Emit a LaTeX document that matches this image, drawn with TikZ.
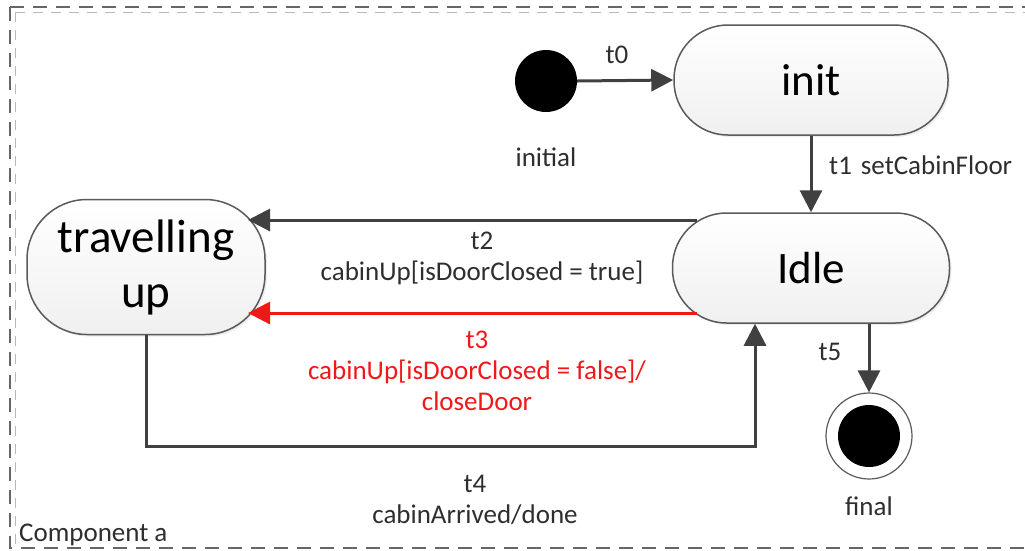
\documentclass[tikz,border=0pt]{standalone}
\usepackage{fontspec}
\setmainfont{Carlito}
\usetikzlibrary{arrows.meta,shadows}
\definecolor{edge}{HTML}{404040}
\definecolor{rim}{HTML}{5A5A5A}
\definecolor{hot}{HTML}{F01818}
\tikzset{
  x=1pt, y=-1pt,
  state/.style={draw=rim, line width=1.5pt, top color=white, bottom color=gray!12,
    rounded corners=54pt, minimum height=110pt, align=center, inner sep=0pt,
    drop shadow={shadow xshift=2pt, shadow yshift=-2pt, fill=gray!40, opacity=0.35}},
  trans/.style={draw=edge, line width=3pt, -{Triangle[length=22pt,width=22pt]}},
  lbl/.style={font=\fontsize{27}{31}\selectfont, text=black!82, align=center, inner sep=1pt},
}
\begin{document}
\begin{tikzpicture}
\useasboundingbox (0,0) rectangle (1025,550);
% component frame
\draw[gray!55, line width=1pt, dash pattern=on 10pt off 8pt] (15,12) -- (1030,12);
\draw[gray!55, line width=1pt, dash pattern=on 10pt off 8pt] (15,12) -- (15,546);
\draw[edge!80, line width=1.3pt, dash pattern=on 14pt off 9pt] (10,7) -- (1030,7);
\draw[edge!80, line width=1.3pt, dash pattern=on 14pt off 9pt] (10,7) -- (10,548) -- (1030,548);
\node[lbl, anchor=south west] (comp) at (18,547) {Component a};

% states
\node[circle, fill=black, minimum size=62pt, inner sep=0pt] (ini) at (546,81) {};
\node[lbl] (inilbl) at (546,157) {initial};
\node[state, minimum width=274pt, font=\fontsize{45}{50}\selectfont] (init) at (811,80) {init};
\node[state, minimum width=277pt, font=\fontsize{45}{50}\selectfont] (idle) at (811,268) {Idle};
\node[state, minimum width=238pt, minimum height=135pt, rounded corners=60pt,
      font=\fontsize{47}{55}\selectfont] (trav) at (146,267) {travelling\\up};
\node[circle, draw=rim, line width=1.2pt, minimum size=86pt, inner sep=0pt, fill=white] (fin) at (869,436) {};
\node[circle, fill=black, minimum size=62pt, inner sep=0pt] (fincore) at (fin.center) {};
\node[lbl] (finlbl) at (869,506) {final};

% transitions
\draw[trans] (ini.east) -- (init.west);
\node[lbl] (l0) at (617,55) {t0};

\draw[trans] (init.south) -- (idle.north);
\node[lbl, anchor=west] (l1) at (828,165) {t1\hspace{9pt}setCabinFloor};

\coordinate (t2s) at (697,220);
\coordinate (t2e) at (248,220);
\draw[trans] (t2s) -- (t2e);
\node[lbl] (l2) at (482,258) {t2\\cabinUp[isDoorClosed = true]};

\coordinate (t3s) at (697,313);
\coordinate (t3e) at (248,313);
\draw[trans, draw=hot, color=hot] (t3s) -- (t3e);
\node[lbl, text=hot] (l3) at (477,371) {t3\\cabinUp[isDoorClosed = false]/\\closeDoor};

\coordinate (t4k) at (755,446);
\draw[trans] (trav.south) |- (t4k) -- ([xshift=-56pt]idle.south);
\node[lbl] (l4) at (475,500) {t4\\cabinArrived/done};

\draw[trans] ([xshift=58pt]idle.south) -- (fin.north);
\node[lbl] (l5) at (830,352) {t5};
\end{tikzpicture}
\end{document}
